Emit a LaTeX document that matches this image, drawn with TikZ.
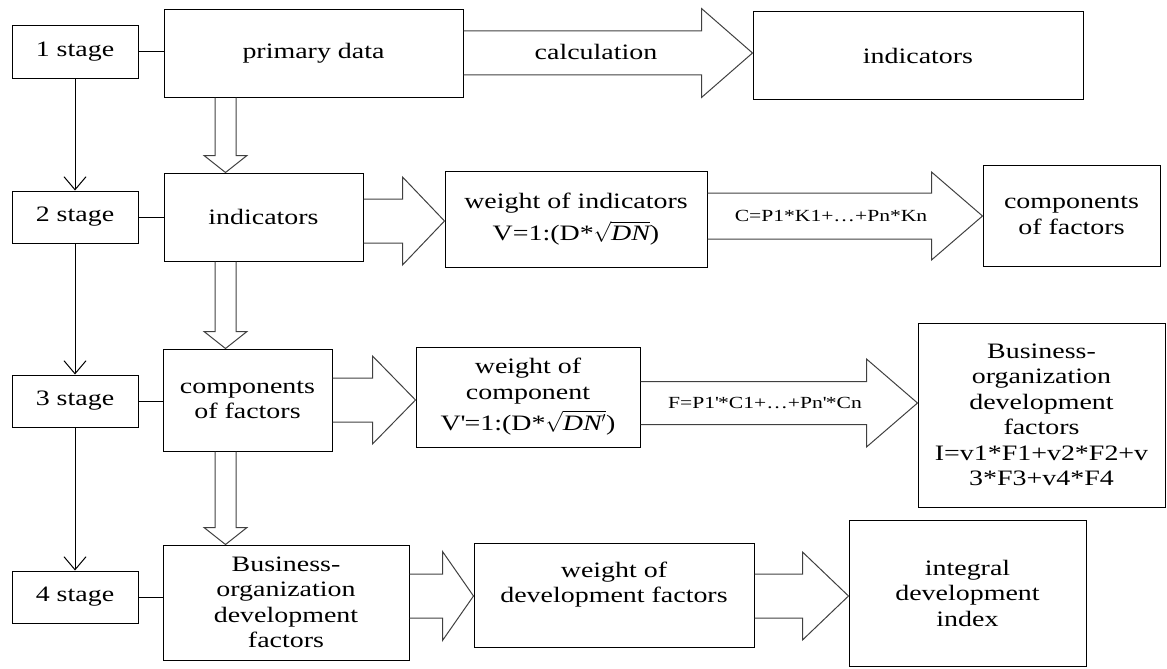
\documentclass[tikz,border=0pt]{standalone}
\usepackage{amsmath}
\usepackage{fontspec}
\setmainfont{Liberation Serif}[FakeStretch=1.27]
\usetikzlibrary{arrows.meta, positioning, calc}

\tikzset{
  box/.style={draw, line width=1pt, align=center, inner sep=2pt, font=\fontsize{22}{25.5}\selectfont},
  stagebox/.style={box, minimum width=126pt, minimum height=52pt},
  blockarrow/.style={draw=black!75, line width=1pt, line join=miter},
  stagearrow/.style={line width=1pt, -{Straight Barb[length=13pt,width=22pt]}},
  formula/.style={inner sep=0pt, font=\fontsize{17}{20}\selectfont},
}

% широкая стрелка вправо: откуда, куда, y, полуширина стрелы, полуширина головки, длина головки
\newcommand{\blockright}[6]{%
  \draw[blockarrow] ($(#1.east |- 0,#3)+(0,-#4)$) -- ($(#2.west |- 0,#3)+(-#6,-#4)$)
    -- ($(#2.west |- 0,#3)+(-#6,-#5)$) -- (#2.west |- 0,#3)
    -- ($(#2.west |- 0,#3)+(-#6,#5)$) -- ($(#2.west |- 0,#3)+(-#6,#4)$)
    -- ($(#1.east |- 0,#3)+(0,#4)$);
}
% широкая стрелка вниз: откуда, куда, x
\newcommand{\blockdown}[3]{%
  \draw[blockarrow] ($(#1.south -| #3,0)+(-10.5,0)$) -- ($(#2.north -| #3,0)+(-10.5,-17)$)
    -- ($(#2.north -| #3,0)+(-21.5,-17)$) -- (#2.north -| #3,0)
    -- ($(#2.north -| #3,0)+(21.5,-17)$) -- ($(#2.north -| #3,0)+(10.5,-17)$)
    -- ($(#1.south -| #3,0)+(10.5,0)$);
}

\begin{document}
\begin{tikzpicture}[x=1pt, y=-1pt]
        \useasboundingbox (0,0) rectangle (1167,669);

        % Этапы
        \foreach \i/\y in {1/52, 2/217, 3/401, 4/597} {
            \node[stagebox] (s\i) at (75,\y) {\i\ stage};
        }
        \foreach \i/\j in {1/2, 2/3, 3/4} {
            \draw[stagearrow] (s\i) -- (s\j);
        }

        % Левый столбец
        \node[box, minimum width=299pt, minimum height=87pt] (pd) at (313.5,53.5) {primary data};
        \node[box, minimum width=199pt, minimum height=88pt] (ind) at (263.5,217) {indicators};
        \node[box, minimum width=169pt, minimum height=102pt] (comp) at (247.5,400) {components\\of factors};
        \node[box, minimum width=246pt, minimum height=115pt] (bus) at (286,602.5) {Business-\\organization\\development\\factors};

        \foreach \i/\b in {1/pd, 2/ind, 3/comp, 4/bus} {
            \draw[line width=1pt] (s\i.east) -- (s\i.east -| \b.west);
        }

        % Веса
        \node[box, minimum width=262pt, minimum height=96pt] (wind) at (576,219) {weight of indicators\\\rule{0pt}{26pt}V=1:(D*$\sqrt{\textit{DN}}$)};
        \node[box, minimum width=224pt, minimum height=100pt] (wcomp) at (528,397) {weight of\\component\\\rule{0pt}{26pt}V\textquotesingle=1:(D*$\sqrt{\textit{DN}'}$)};
        \node[box, minimum width=280pt, minimum height=104pt] (wdev) at (614,595) {weight of\\development factors\\\mbox{}};

        % Результаты
        \node[box, minimum width=330pt, minimum height=87pt] (ind2) at (918,55.5) {indicators};
        \node[box, minimum width=177pt, minimum height=101pt] (cfac) at (1071.5,215.5) {components\\of factors};
        \node[box, minimum width=247pt, minimum height=184pt] (bus2) at (1041.5,415) {Business-\\organization\\development\\factors\\I=v1*F1+v2*F2+v\\3*F3+v4*F4};
        \node[box, minimum width=237pt, minimum height=146pt] (integ) at (967.5,593) {integral\\development\\index};

        % Широкие стрелки
        \blockright{pd}{ind2}{53}{22}{44.5}{51}
        \blockright{ind}{wind}{221}{22}{44}{42}
        \blockright{wind}{cfac}{216}{23}{44}{51}
        \blockright{comp}{wcomp}{400}{22}{44}{43}
        \blockright{wcomp}{bus2}{403}{21.5}{44}{51}
        \blockright{bus}{wdev}{596}{22}{44.5}{31}
        \blockright{wdev}{integ}{596}{22}{44}{46}

        \blockdown{pd}{ind}{225.5}
        \blockdown{ind}{comp}{225.5}
        \blockdown{comp}{bus}{225.5}

        % Подписи
        \node[formula, font=\fontsize{22}{25}\selectfont] (lcalc) at (596,52) {calculation};
        \node[formula] (lc) at (831,216) {C=P1*K1+…+Pn*Kn};
        \node[formula] (lf) at (765,403) {F=P1\textquotesingle*C1+…+Pn\textquotesingle*Cn};

\end{tikzpicture}
\end{document}
